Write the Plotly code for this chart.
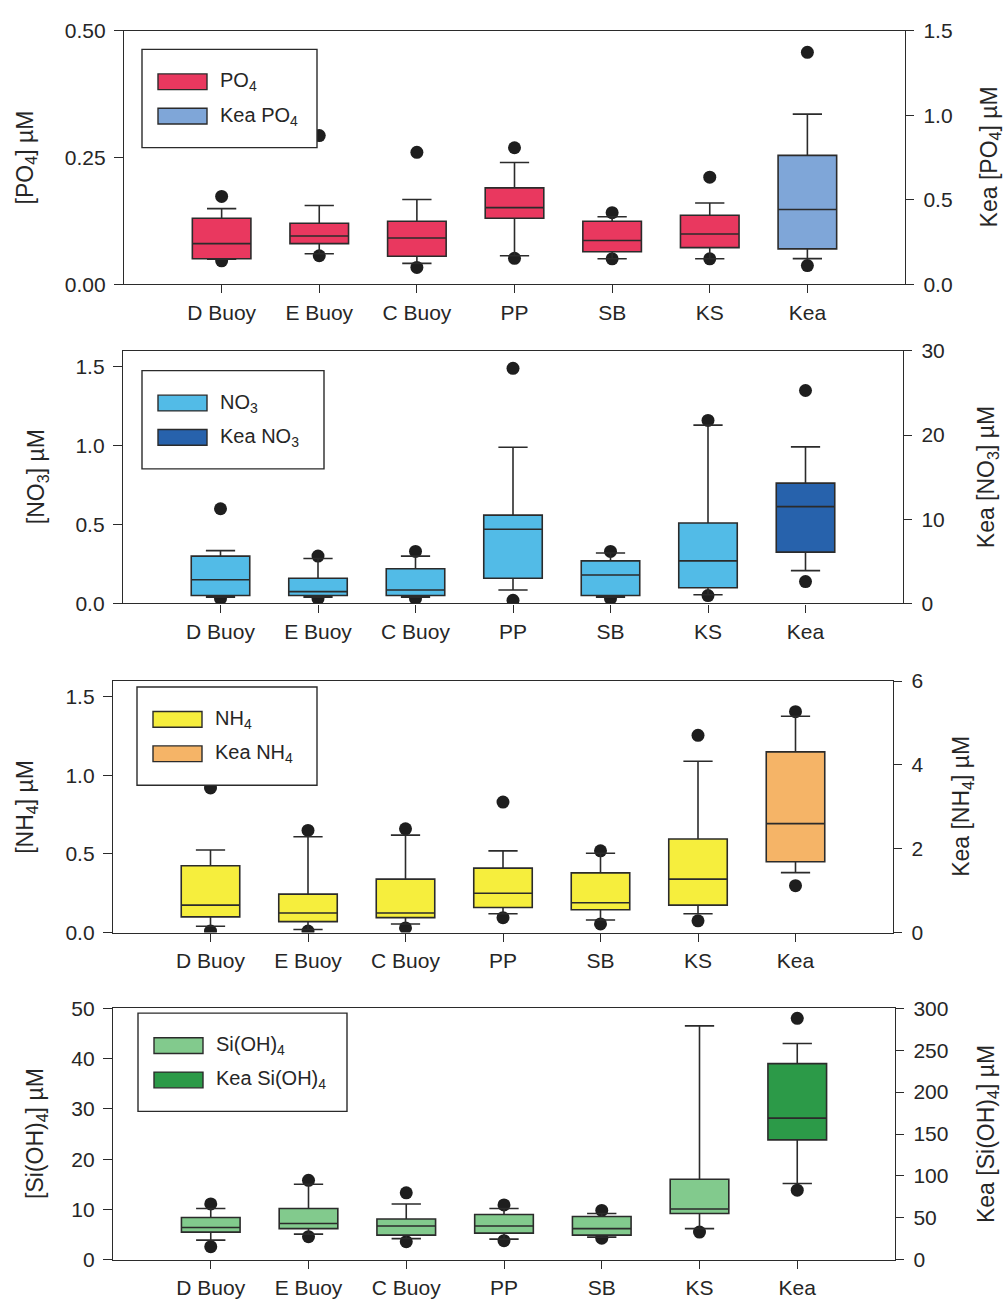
import plotly.graph_objects as go

W, H = 1007, 1314

SITES = ["D Buoy", "E Buoy", "C Buoy", "PP", "SB", "KS", "Kea"]

# Box statistics per site; the last entry (Kea) is read on the right-hand axis.
# lo/hi = individual points below/above the whiskers.
PO4_LO = [0.046, 0.056, 0.033, 0.051, 0.050, 0.050, 0.110]
PO4_WLO = [0.049, 0.060, 0.041, 0.056, 0.050, 0.050, 0.151]
PO4_Q1 = [0.050, 0.080, 0.055, 0.130, 0.064, 0.072, 0.209]
PO4_MED = [0.080, 0.095, 0.091, 0.151, 0.086, 0.099, 0.442]
PO4_Q3 = [0.130, 0.120, 0.124, 0.190, 0.124, 0.136, 0.762]
PO4_WHI = [0.149, 0.155, 0.167, 0.240, 0.133, 0.160, 1.006]
PO4_HI = [0.173, 0.293, 0.260, 0.269, 0.141, 0.211, 1.372]

NO3_LO = [0.030, 0.030, 0.030, 0.020, 0.030, 0.050, 2.6]
NO3_WLO = [0.040, 0.040, 0.040, 0.085, 0.040, 0.055, 3.9]
NO3_Q1 = [0.050, 0.050, 0.050, 0.160, 0.050, 0.100, 6.1]
NO3_MED = [0.150, 0.075, 0.085, 0.470, 0.180, 0.270, 11.5]
NO3_Q3 = [0.300, 0.160, 0.220, 0.560, 0.270, 0.510, 14.3]
NO3_WHI = [0.335, 0.285, 0.300, 0.990, 0.320, 1.130, 18.6]
NO3_HI = [0.600, 0.300, 0.330, 1.490, 0.330, 1.160, 25.3]

NH4_LO = [0.010, 0.010, 0.030, 0.095, 0.055, 0.075, 1.12]
NH4_WLO = [0.040, 0.020, 0.055, 0.120, 0.080, 0.120, 1.43]
NH4_Q1 = [0.100, 0.070, 0.095, 0.160, 0.145, 0.175, 1.69]
NH4_MED = [0.175, 0.125, 0.125, 0.250, 0.190, 0.340, 2.60]
NH4_Q3 = [0.425, 0.245, 0.340, 0.410, 0.380, 0.595, 4.31]
NH4_WHI = [0.525, 0.610, 0.620, 0.520, 0.505, 1.090, 5.16]
NH4_HI = [0.920, 0.650, 0.660, 0.830, 0.520, 1.255, 5.27]

SI_LO = [2.6, 4.6, 3.6, 3.8, 4.3, 5.5, 83]
SI_WLO = [3.9, 5.1, 4.2, 4.1, 4.5, 6.2, 91]
SI_Q1 = [5.5, 6.2, 4.9, 5.3, 4.9, 9.2, 143]
SI_MED = [6.4, 7.2, 6.7, 6.7, 6.2, 10.1, 169]
SI_Q3 = [8.4, 10.2, 8.1, 9.0, 8.6, 16.0, 234]
SI_WHI = [10.2, 15.0, 11.1, 10.2, 9.2, 46.5, 258]
SI_HI = [11.1, 15.8, 13.3, 10.9, 9.8, None, 288]

FONT = "Liberation Sans, Arial, Helvetica, sans-serif"
INK = "#2b2b2b"
TXT = "#262626"

panels = [
    dict(stats=(PO4_LO, PO4_WLO, PO4_Q1, PO4_MED, PO4_Q3, PO4_WHI, PO4_HI),
         colors=("#E9385F", "#7FA6D8"),
         names=("PO<sub>4</sub>", "Kea PO<sub>4</sub>"),
         ytitle="[PO<sub>4</sub>] µM", y2title="Kea [PO<sub>4</sub>] µM",
         frame=(124, 905, 19, 277),
         left=dict(range=[0, 0.5], tickvals=[0, 0.25, 0.5], tickformat=".2f"),
         right=dict(range=[0, 1.5], tickvals=[0, 0.5, 1.0, 1.5], tickformat=".1f"),
         title_x=(26, 990), legend=(142, 38, 175)),
    dict(stats=(NO3_LO, NO3_WLO, NO3_Q1, NO3_MED, NO3_Q3, NO3_WHI, NO3_HI),
         colors=("#52BBE7", "#2762AC"),
         names=("NO<sub>3</sub>", "Kea NO<sub>3</sub>"),
         ytitle="[NO<sub>3</sub>] µM", y2title="Kea [NO<sub>3</sub>] µM",
         frame=(123, 903, 345, 602),
         left=dict(range=[0, 1.6], tickvals=[0, 0.5, 1.0, 1.5], tickformat=".1f"),
         right=dict(range=[0, 30], tickvals=[0, 10, 20, 30], tickformat="d"),
         title_x=(37, 987), legend=(142, 365, 182)),
    dict(stats=(NH4_LO, NH4_WLO, NH4_Q1, NH4_MED, NH4_Q3, NH4_WHI, NH4_HI),
         colors=("#F6EE3D", "#F5B467"),
         names=("NH<sub>4</sub>", "Kea NH<sub>4</sub>"),
         ytitle="[NH<sub>4</sub>] µM", y2title="Kea [NH<sub>4</sub>] µM",
         frame=(113, 893, 681, 937),
         left=dict(range=[0, 1.6], tickvals=[0, 0.5, 1.0, 1.5], tickformat=".1f"),
         right=dict(range=[0, 6], tickvals=[0, 2, 4, 6], tickformat="d"),
         title_x=(27, 963), legend=(137, 687, 180)),
    dict(stats=(SI_LO, SI_WLO, SI_Q1, SI_MED, SI_Q3, SI_WHI, SI_HI),
         colors=("#82CA8D", "#2C9A48"),
         names=("Si(OH)<sub>4</sub>", "Kea Si(OH)<sub>4</sub>"),
         ytitle="[Si(OH)<sub>4</sub>] µM", y2title="Kea [Si(OH)<sub>4</sub>] µM",
         frame=(113, 895, 1014, 1270),
         left=dict(range=[0, 50], tickvals=[0, 10, 20, 30, 40, 50], tickformat="d"),
         right=dict(range=[0, 300], tickvals=[0, 50, 100, 150, 200, 250, 300], tickformat="d"),
         title_x=(36, 987), legend=(138, 1019, 209)),
]


def fx(px):
    return px / W


def fy(py):
    return 1 - py / H


def axis_key(yid):
    return "yaxis" if yid == "y" else "yaxis" + yid[1:]


fig = go.Figure()
layout = dict(
    width=W, height=H, margin=dict(l=0, r=0, t=0, b=0),
    paper_bgcolor="white", plot_bgcolor="white",
    showlegend=False, boxmode="overlay",
    font=dict(family=FONT, color=TXT, size=21),
)
shapes = []
annotations = []

tickfont = dict(family=FONT, size=21, color=TXT)

for i, p in enumerate(panels, start=1):
    xid = f"x{i}"
    base = 4 * (i - 1)
    ya, yb, yc, yd = (f"y{base + k}" if base + k > 1 else "y" for k in (1, 2, 3, 4))
    lo, wlo, q1, med, q3, whi, hi = p["stats"]
    site_col, kea_col = p["colors"]
    x0, x1, top, bot = p["frame"]

    # points drawn first so the boxes sit over them
    fig.add_trace(go.Scatter(
        x=SITES[:6] + SITES[:6], y=lo[:6] + hi[:6], mode="markers",
        marker=dict(size=13, color="#1e1e1e"), xaxis=xid, yaxis=ya, hoverinfo="skip"))
    fig.add_trace(go.Scatter(
        x=[SITES[6], SITES[6]], y=[lo[6], hi[6]], mode="markers",
        marker=dict(size=13, color="#1e1e1e"), xaxis=xid, yaxis=yb, hoverinfo="skip"))
    fig.add_trace(go.Box(
        x=SITES[:6], q1=q1[:6], median=med[:6], q3=q3[:6],
        lowerfence=wlo[:6], upperfence=whi[:6],
        fillcolor=site_col, line=dict(color=INK, width=1.6),
        width=0.6, whiskerwidth=0.5, boxpoints=False,
        xaxis=xid, yaxis=yc, hoverinfo="skip"))
    fig.add_trace(go.Box(
        x=[SITES[6]], q1=[q1[6]], median=[med[6]], q3=[q3[6]],
        lowerfence=[wlo[6]], upperfence=[whi[6]],
        fillcolor=kea_col, line=dict(color=INK, width=1.6),
        width=0.6, whiskerwidth=0.5, boxpoints=False,
        xaxis=xid, yaxis=yd, hoverinfo="skip"))

    xdom = [fx(x0), fx(x1)]
    ydom = [fy(bot), fy(top)]

    layout[f"xaxis{i}"] = dict(
        domain=xdom, anchor=ya, type="category", categoryorder="array",
        categoryarray=SITES, range=[-1, 7], showline=True, mirror=True,
        linecolor=INK, linewidth=1.4, ticks="outside", ticklen=8, tickwidth=1.4,
        tickcolor=INK, tickfont=tickfont, showgrid=False, zeroline=False,
        ticklabelstandoff=1, fixedrange=True)
    layout[axis_key(ya)] = dict(
        domain=ydom, anchor=xid, range=p["left"]["range"], tickvals=p["left"]["tickvals"],
        tickformat=p["left"]["tickformat"], showline=True, linecolor=INK, linewidth=1.4,
        ticks="outside", ticklen=9, tickwidth=1.4, tickcolor=INK, tickfont=tickfont,
        showgrid=False, zeroline=False, ticklabelstandoff=4, fixedrange=True)
    layout[axis_key(yb)] = dict(
        overlaying=ya, anchor=xid, side="right", range=p["right"]["range"],
        tickvals=p["right"]["tickvals"], tickformat=p["right"]["tickformat"],
        showline=True, linecolor=INK, linewidth=1.4, ticks="outside", ticklen=8,
        tickwidth=1.4, tickcolor=INK, tickfont=tickfont, showgrid=False,
        zeroline=False, ticklabelstandoff=5, fixedrange=True)
    layout[axis_key(yc)] = dict(overlaying=ya, anchor=xid, range=p["left"]["range"],
                                visible=False, fixedrange=True)
    layout[axis_key(yd)] = dict(overlaying=ya, anchor=xid, side="right",
                                range=p["right"]["range"], visible=False, fixedrange=True)

    # axis titles
    ymid = fy((top + bot) / 2)
    for tx, ttl in zip(p["title_x"], (p["ytitle"], p["y2title"])):
        annotations.append(dict(
            text=ttl, x=fx(tx), y=ymid, xref="paper", yref="paper",
            textangle=-90, showarrow=False, xanchor="center", yanchor="middle",
            font=dict(family=FONT, size=23, color=TXT)))

    # legend panel
    lx, ly, lw = p["legend"]
    shapes.append(dict(type="rect", xref="paper", yref="paper",
                       x0=fx(lx), x1=fx(lx + lw), y0=fy(ly + 100), y1=fy(ly),
                       line=dict(color=INK, width=1.4), fillcolor="white", layer="above"))
    for row, (name, col) in enumerate(zip(p["names"], p["colors"])):
        cy = ly + 33 + row * 35
        shapes.append(dict(type="rect", xref="paper", yref="paper",
                           x0=fx(lx + 16), x1=fx(lx + 65), y0=fy(cy + 8), y1=fy(cy - 8),
                           line=dict(color=INK, width=1.4), fillcolor=col, layer="above"))
        annotations.append(dict(
            text=name, x=fx(lx + 76), y=fy(cy), xref="paper", yref="paper",
            showarrow=False, xanchor="left", yanchor="middle",
            font=dict(family=FONT, size=20, color=TXT)))

layout["shapes"] = shapes
layout["annotations"] = annotations
fig.update_layout(**layout)

fig.write_html("out.html")
